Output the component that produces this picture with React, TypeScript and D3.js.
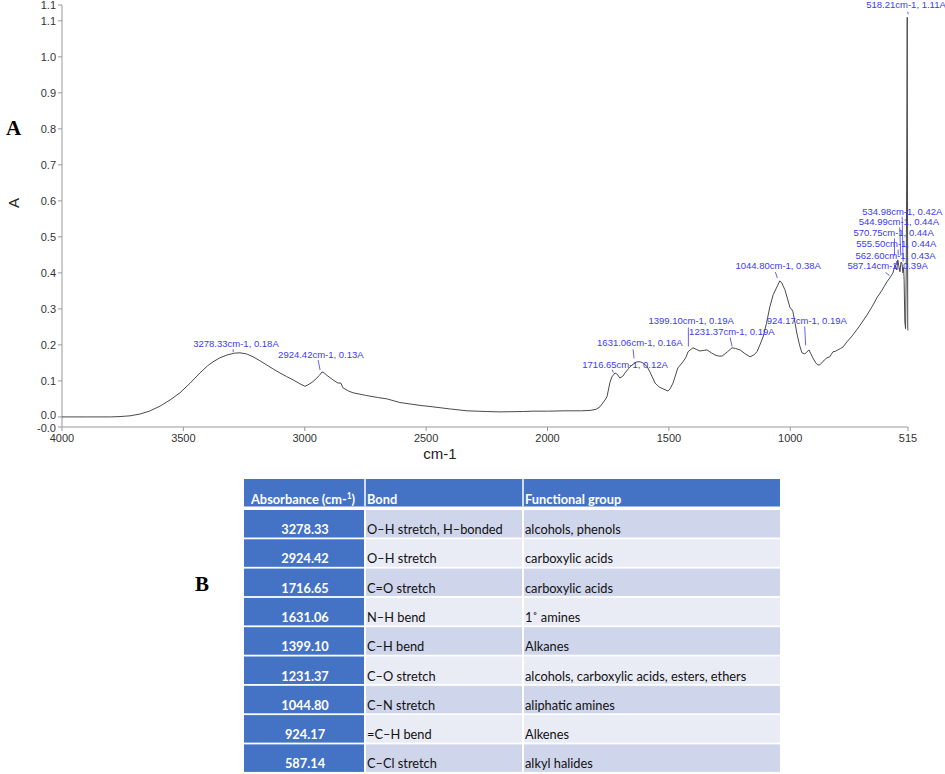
import * as d3 from 'd3';

// FTIR spectrum (wavenumber cm-1, absorbance A)
const wavenumbers = [
  4000, 3900, 3800, 3761, 3720, 3679, 3640, 3596, 3555, 3514, 3472, 3432, 3400, 3378, 3350, 3320,
  3290, 3267, 3240, 3213, 3185, 3156, 3130, 3102, 3075, 3048, 3020, 2999, 2987, 2970, 2958, 2940,
  2929, 2920, 2908, 2884, 2863, 2851, 2843, 2820, 2801, 2750, 2700, 2661, 2608, 2525, 2472, 2400,
  2332, 2250, 2196, 2100, 2060, 2000, 1920, 1860, 1825, 1800, 1784, 1763, 1755, 1743, 1735, 1722,
  1712, 1702, 1690, 1681, 1665, 1652, 1632, 1618, 1607, 1590, 1578, 1557, 1540, 1524, 1504, 1495,
  1483, 1463, 1442, 1430, 1421, 1401, 1385, 1372, 1355, 1343, 1325, 1310, 1295, 1281, 1260, 1240,
  1225, 1207, 1185, 1166, 1150, 1137, 1125, 1112, 1098, 1084, 1070, 1055, 1043, 1035, 1022, 1010,
  1001, 995, 989, 980, 973, 962, 952, 940, 935, 923, 915, 907, 895, 886, 878, 870,
  860, 849, 837, 830, 824, 815, 804, 793, 783, 767, 745, 726, 705, 684, 663, 643,
  622, 602, 590, 584, 577, 573, 569, 565, 561, 557, 553, 548, 544, 540, 536, 533,
  531, 528, 525, 522, 520, 518.2, 517, 516, 515,
];
const absorbance = [
  0.0, 0.0, 0.0, 0.001, 0.003, 0.008, 0.016, 0.03, 0.047, 0.067, 0.094, 0.122, 0.142, 0.153, 0.164, 0.172,
  0.177, 0.178, 0.175, 0.167, 0.156, 0.144, 0.133, 0.122, 0.112, 0.103, 0.092, 0.085, 0.089, 0.096, 0.103, 0.115,
  0.125, 0.122, 0.115, 0.103, 0.094, 0.094, 0.081, 0.072, 0.067, 0.06, 0.054, 0.05, 0.04, 0.032, 0.028, 0.022,
  0.017, 0.015, 0.014, 0.015, 0.016, 0.016, 0.017, 0.017, 0.018, 0.021, 0.028, 0.047, 0.056, 0.095, 0.111, 0.122,
  0.118, 0.108, 0.113, 0.122, 0.135, 0.144, 0.153, 0.153, 0.15, 0.14, 0.125, 0.094, 0.083, 0.078, 0.072, 0.078,
  0.094, 0.136, 0.153, 0.165, 0.181, 0.192, 0.187, 0.183, 0.185, 0.186, 0.178, 0.172, 0.169, 0.169, 0.18, 0.192,
  0.19, 0.186, 0.175, 0.167, 0.172, 0.181, 0.2, 0.222, 0.26, 0.306, 0.34, 0.361, 0.378, 0.372, 0.353, 0.325,
  0.303, 0.3, 0.292, 0.26, 0.233, 0.2, 0.178, 0.175, 0.178, 0.186, 0.175, 0.164, 0.15, 0.144, 0.145, 0.15,
  0.158, 0.164, 0.167, 0.175, 0.181, 0.182, 0.186, 0.19, 0.194, 0.208, 0.225, 0.242, 0.262, 0.283, 0.306, 0.331,
  0.352, 0.375, 0.386, 0.392, 0.4, 0.41, 0.422, 0.415, 0.408, 0.436, 0.42, 0.403, 0.43, 0.428, 0.4, 0.415,
  0.38, 0.264, 0.245, 0.42, 0.75, 1.11, 0.6, 0.245, 0.24,
];

// labelled peaks
const peakWn = [518.21, 534.98, 544.99, 570.75, 555.5, 562.6, 587.14, 924.17, 1044.8, 1231.37, 1399.1, 1631.06, 1716.65, 2924.42, 3278.33];
const peakA = [1.11, 0.42, 0.44, 0.44, 0.44, 0.43, 0.39, 0.19, 0.38, 0.19, 0.19, 0.16, 0.12, 0.13, 0.18];

// label placement relative to the peak: [text dx, text dy, leader x1, y1, x2, y2]
const labelLayout = [
  [-41, -9.5, 0.5, -5.5, 1, -3],
  [-41, -51, -1, -49, 0, -4],
  [-42, -33, -1, -31, 0, -3],
  [-41, -22, 0, -20, 0, -3],
  [-42, -11, 0, -9, 0, -3],
  [-41, -3, 0, -1, 0, 3],
  [-43, -7, -5, -4, -1, -1],
  [-42, -25, -4, -22, -3, -3],
  [-44, -11, -4, -8, -2, -2],
  [-45, -14, -4, -11, -2, -2],
  [-45, -25, -5, -21, -5, -2],
  [-40, -13, -4, -10, -3, -1],
  [-34, -6, -4, -4, -3, -1],
  [-45, -12, -5, -10, -3, 0],
  [-44, -5, -4, -3, -4, 0],
];

const xTicks = [4000, 3500, 3000, 2500, 2000, 1500, 1000, 515];
const yTicks = [-0.028, 0, 0.1, 0.2, 0.3, 0.4, 0.5, 0.6, 0.7, 0.8, 0.9, 1.0, 1.1, 1.144];
const yTickLabels = ['-0.0', '0.0', '0.1', '0.2', '0.3', '0.4', '0.5', '0.6', '0.7', '0.8', '0.9', '1.0', '1.1', '1.1'];

// table B
const tableHeader = ['Absorbance (cm-', 'Bond', 'Functional group'];
const tableWn = ['3278.33', '2924.42', '1716.65', '1631.06', '1399.10', '1231.37', '1044.80', '924.17', '587.14'];
const tableBond = ['O–H stretch, H–bonded', 'O–H stretch', 'C=O stretch', 'N–H bend', 'C–H bend', 'C–O stretch', 'C–N stretch', '=C–H bend', 'C–Cl stretch'];
const tableGroup = ['alcohols, phenols', 'carboxylic acids', 'carboxylic acids', '1˚ amines', 'Alkanes', 'alcohols, carboxylic acids, esters, ethers', 'aliphatic amines', 'Alkenes', 'alkyl halides'];

const W = 945;
const H = 774;
const axisFont = '"Liberation Sans", Arial, sans-serif';
const tableFont = 'Lato, "Open Sans", sans-serif';
const blue = '#3b3bf2';

export default function App() {
  const x = d3.scaleLinear().domain([4000, 515]).range([62, 908]);
  const y = d3.scaleLinear().domain([-0.028, 1.144]).range([427, 5]);

  const pts = wavenumbers.map((w, i) => [w, absorbance[i]] as [number, number]);
  const line = d3.line<[number, number]>().x(d => x(d[0])).y(d => y(d[1]));

  // table geometry
  const colX = [244, 366, 524, 780];
  const headTop = 479;
  const headH = 27.5;
  const rowTop = 510;
  const rowStep = 29.3;
  const rowH = 27.5;
  const rowFill = ['#CFD5EA', '#E9EBF5'];

  return (
    <div style={{ position: 'absolute', left: 0, top: 0 }}>
      <svg width={W} height={H} style={{ display: 'block', background: '#fff' }}>
        {/* panel labels */}
        <text x={6} y={135} fontFamily='"Liberation Serif", "Times New Roman", serif' fontWeight="bold" fontSize={21} fill="#000">A</text>
        <text x={195} y={591} fontFamily='"Liberation Serif", "Times New Roman", serif' fontWeight="bold" fontSize={21} fill="#000">B</text>

        {/* axes */}
        <g fontFamily={axisFont} fontSize={11} fill="#333">
          <line x1={62} x2={62} y1={5} y2={427} stroke="#999" />
          <line x1={62} x2={908} y1={427} y2={427} stroke="#999" />
          {yTicks.map((t, i) => (
            <g key={'y' + i}>
              <line x1={58} x2={62} y1={y(t)} y2={y(t)} stroke="#999" />
              <text x={56} y={y(t) + (i === 0 ? 5 : i === 1 ? 2 : 4)} textAnchor="end">{yTickLabels[i]}</text>
            </g>
          ))}
          {xTicks.map((t, i) => (
            <g key={'x' + i}>
              <line x1={x(t)} x2={x(t)} y1={427} y2={431} stroke="#999" />
              <text x={x(t)} y={442} textAnchor="middle">{t}</text>
            </g>
          ))}
          <text x={440} y={459} textAnchor="middle" fontSize={15} fill="#222">cm-1</text>
          <text transform="translate(19,203) rotate(-90)" textAnchor="middle" fontSize={15} fill="#222">A</text>
        </g>

        {/* spectrum */}
        <path d={line(pts) || ''} fill="none" stroke="#4a4a4a" strokeWidth={1} />

        {/* peak labels */}
        <g fontFamily={axisFont} fontSize={9.5} fill={blue}>
          {peakWn.map((w, i) => {
            const px = x(w);
            const py = y(peakA[i]);
            const l = labelLayout[i];
            return (
              <g key={'p' + i}>
                <line x1={px + l[2]} y1={py + l[3]} x2={px + l[4]} y2={py + l[5]} stroke={blue} strokeWidth={0.8} />
                <text x={px + l[0]} y={py + l[1]}>{`${w.toFixed(2)}cm-1, ${peakA[i].toFixed(2)}A`}</text>
              </g>
            );
          })}
        </g>

        {/* table */}
        <g fontFamily={tableFont} fontSize={12.8}>
          <rect x={colX[0]} y={headTop} width={colX[3] - colX[0]} height={headH} fill="#4472C4" />
          <text x={colX[0] + 7} y={headTop + 25} fill="#fff" fontWeight="bold">
            {tableHeader[0]}
            <tspan fontSize={8.5} dy={-5}>1</tspan>
            <tspan dy={5}>)</tspan>
          </text>
          <text x={colX[1] + 1} y={headTop + 25} fill="#fff" fontWeight="bold">{tableHeader[1]}</text>
          <text x={colX[2] + 1} y={headTop + 25} fill="#fff" fontWeight="bold">{tableHeader[2]}</text>
          <line x1={colX[1] - 1} x2={colX[1] - 1} y1={headTop} y2={headTop + headH} stroke="#fff" strokeWidth={1.5} />
          <line x1={colX[2] - 1} x2={colX[2] - 1} y1={headTop} y2={headTop + headH} stroke="#fff" strokeWidth={1.5} />
          {tableWn.map((wn, i) => {
            const top = rowTop + i * rowStep;
            return (
              <g key={'r' + i}>
                <rect x={colX[0]} y={top} width={colX[1] - colX[0] - 2} height={rowH} fill="#4472C4" />
                <rect x={colX[1]} y={top} width={colX[2] - colX[1] - 2} height={rowH} fill={rowFill[i % 2]} />
                <rect x={colX[2]} y={top} width={colX[3] - colX[2]} height={rowH} fill={rowFill[i % 2]} />
                <text x={(colX[0] + colX[1]) / 2} y={top + 24} textAnchor="middle" fill="#fff" fontWeight="bold">{wn}</text>
                <text x={colX[1] + 1} y={top + 24} fill="#111">{tableBond[i]}</text>
                <text x={colX[2] + 1} y={top + 24} fill="#111">{tableGroup[i]}</text>
              </g>
            );
          })}
        </g>
      </svg>
    </div>
  );
}
